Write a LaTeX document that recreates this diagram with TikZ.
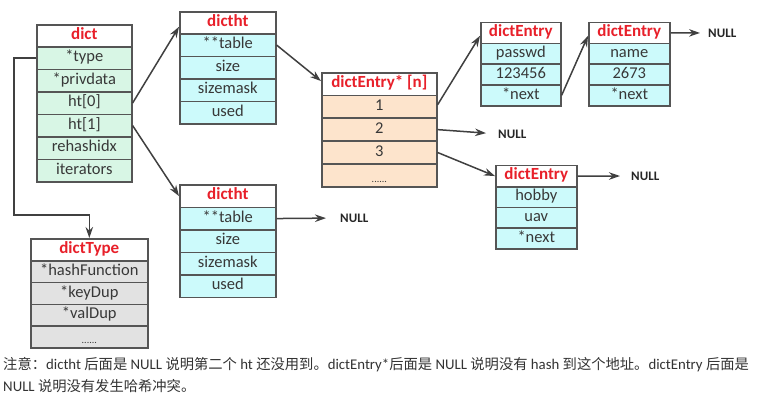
\documentclass[tikz,border=0pt]{standalone}
\usepackage{fontspec}
\setmainfont{Carlito}
\newfontfamily\cjk{Noto Sans CJK SC}
\usetikzlibrary{arrows.meta,calc}
\definecolor{bord}{HTML}{555555}
\definecolor{txt}{HTML}{383838}
\definecolor{hred}{HTML}{E8202A}
\definecolor{fgreen}{HTML}{D8F6E5}
\definecolor{fcyan}{HTML}{CCFAFB}
\definecolor{fpeach}{HTML}{FDE4CC}
\definecolor{fgrey}{HTML}{E2E2E2}
\definecolor{conn}{HTML}{404040}
\tikzset{
 cell/.style={draw=bord, line width=1.6pt, inner sep=0pt, anchor=north west, text=txt,
   text height=11pt, text depth=3.5pt, font=\fontsize{16.5}{18}\selectfont},
 hdr/.style={cell, fill=white, text=hred, font=\fontsize{17}{18}\selectfont\bfseries},
 link/.style={draw=conn, line width=1.5pt, -{Stealth[length=11pt,width=7.5pt]}},
 nul/.style={inner sep=0pt, anchor=west, font=\fontsize{13}{14}\selectfont\bfseries, text=black!85},
 note/.style={inner sep=0pt, anchor=west, text=black!80, font=\fontsize{14.8}{17}\selectfont},
}
\newcommand\dotsrow{\raisebox{-3pt}{\fontsize{10}{10}\selectfont ......}}
\newcommand\zh[1]{{\cjk\fontsize{14.3}{17}\selectfont #1}}
\newcommand\tbl[9]{%
 \node[hdr, minimum width={(#3-#2)*1pt}, minimum height={#5*1pt}] (#1-h) at (#2,#4) {#8};
 \foreach \t [count=\i] in {#9} {
   \node[cell, fill=#7, minimum width={(#3-#2)*1pt}, minimum height={#6*1pt}] (#1-\i) at (#2,{#4+#5+(\i-1)*#6}) {\t};
 }
}
\begin{document}
\begin{tikzpicture}[x=1pt,y=-1pt]
\fill[white] (0,0) rectangle (757,408);
\useasboundingbox (0,0) rectangle (757,408);
\tbl{dict}{36}{131}{24}{22}{22.5}{fgreen}{dict}{*type,*privdata,ht[0],ht[1],rehashidx,iterators}
\tbl{dht1}{179}{275}{11}{22}{22.5}{fcyan}{dictht}{**table,size,sizemask,used}
\tbl{dht2}{179}{275}{184}{22.5}{22.5}{fcyan}{dictht}{**table,size,sizemask,used}
\tbl{dtype}{30}{147}{238}{22}{21.75}{fgrey}{dictType}{*hashFunction,*keyDup,*valDup,\dotsrow}
\tbl{den}{321}{436}{72}{22.5}{22.875}{fpeach}{dictEntry* [n]}{1,2,3,\dotsrow}
\tbl{de1}{480}{560}{21.5}{21}{20.83}{fcyan}{dictEntry}{passwd,123456,*next}
\tbl{de2}{588}{669}{21.5}{21}{20.83}{fcyan}{dictEntry}{name,2673,*next}
\tbl{de3}{495}{576}{164.5}{21.5}{20.67}{fcyan}{dictEntry}{hobby,uav,*next}
% connectors
\coordinate (c1) at (14,215);
\draw[link] (dict-1.west) -| (c1) -| (dtype-h.north);
\draw[link] (dict-3.east) -- ([yshift=-4pt]dht1-h.west);
\draw[link] (dict-4.east) -- (dht2-h.west);
\draw[link] (dht1-1.east) -- ([yshift=3pt]den-h.west);
\draw[link] ([yshift=2pt]den-1.east) -- ([yshift=-3pt]de1-h.west);
\draw[link] (de1-3.east) -- ([yshift=-3pt]de2-h.west);
\draw[link] (den-3.east) -- (de3-h.west);
% NULLs
\node[nul] (n1) at (708,33) {NULL};
\draw[link, shorten >=8pt] (de2-h.east) -- (n1.west);
\node[nul] (n2) at (498,134) {NULL};
\draw[link, shorten >=12pt] (den-2.east) -- (n2.west);
\node[nul] (n3) at (631,176) {NULL};
\draw[link, shorten >=11pt] (de3-h.east) -- (n3.west);
\node[nul] (n4) at (340,218) {NULL};
\draw[link, shorten >=14pt] (dht2-1.east) -- (n4.west);
% note
\node[note] (note1) at (3,365) {\zh{注意：}dictht \zh{后面是} NULL \zh{说明第二个} ht \zh{还没用到。}dictEntry*\zh{后面是} NULL \zh{说明没有} hash \zh{到这个地址。}dictEntry \zh{后面是}};
\node[note] (note2) at (3,386) {NULL \zh{说明没有发生哈希冲突。}};
\end{tikzpicture}
\end{document}
